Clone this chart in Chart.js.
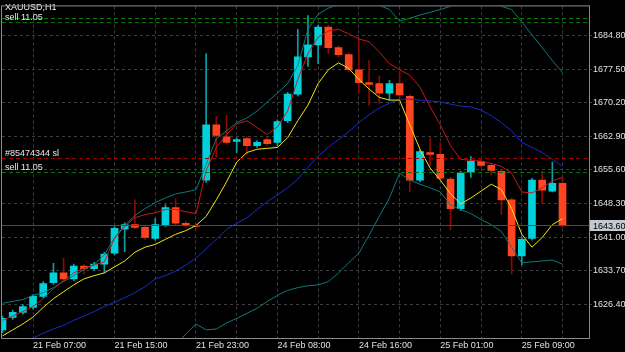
<!DOCTYPE html>
<html>
<head>
<meta charset="utf-8">
<title>XAUUSD,H1</title>
<script src="https://cdn.jsdelivr.net/npm/chart.js@4.4.1/dist/chart.umd.min.js"></script>
<style>
  html, body { margin: 0; padding: 0; background: #000; }
  canvas { display: block; }
</style>
</head>
<body>
<canvas id="chart" width="625" height="352"></canvas>
<script>
const symbolTitle = "XAUUSD,H1";

// x tick labels sit on these bar indices (one grid line every 4 bars)
const tickIndex = [3, 11, 19, 27, 35, 43, 51];
const tickLabels = ["21 Feb 07:00", "21 Feb 15:00", "21 Feb 23:00", "24 Feb 08:00",
  "24 Feb 16:00", "25 Feb 01:00", "25 Feb 09:00"];
const priceTicks = [1626.4, 1633.7, 1641.0, 1648.3, 1655.6, 1662.9, 1670.2, 1677.5, 1684.8];

const opens = [1620.8, 1623.5, 1624.6, 1625.7, 1628.1, 1631.1, 1633.2, 1631.9, 1634.7, 1634.1,
  1635.1, 1637.5, 1642.7, 1643.7, 1643.1, 1640.7, 1643.7, 1647.4, 1644.0, 1643.5,
  1653.4, 1665.4, 1662.8, 1661.8, 1662.4, 1660.9, 1662.2, 1661.6, 1666.3, 1672.1,
  1680.2, 1682.8, 1686.7, 1682.2, 1680.7, 1677.4, 1674.6, 1674.4, 1672.3, 1674.4,
  1671.6, 1653.4, 1659.4, 1659.0, 1653.6, 1647.2, 1655.1, 1657.5, 1656.6, 1655.3,
  1649.1, 1636.9, 1640.7, 1653.4, 1651.0, 1652.7];
const highs = [1623.8, 1625.1, 1626.3, 1628.5, 1631.3, 1635.3, 1636.4, 1635.1, 1635.0, 1635.5,
  1637.7, 1643.3, 1644.1, 1649.1, 1643.4, 1645.0, 1648.0, 1649.3, 1644.4, 1643.9,
  1680.9, 1667.3, 1667.5, 1662.6, 1662.8, 1662.0, 1662.6, 1666.5, 1672.5, 1686.2,
  1689.2, 1687.1, 1687.1, 1682.6, 1681.1, 1684.1, 1679.4, 1676.1, 1675.1, 1677.0,
  1672.0, 1660.0, 1662.6, 1661.5, 1654.0, 1655.3, 1658.5, 1657.9, 1657.0, 1655.7,
  1649.5, 1641.0, 1653.8, 1655.3, 1657.3, 1654.0];
const lows = [1620.2, 1623.1, 1624.2, 1625.3, 1627.8, 1630.7, 1631.5, 1631.5, 1633.0, 1633.8,
  1633.2, 1637.1, 1637.8, 1642.8, 1640.5, 1640.3, 1643.3, 1643.6, 1643.3, 1642.9,
  1652.9, 1658.3, 1661.2, 1659.4, 1658.9, 1660.5, 1660.9, 1660.9, 1665.9, 1671.7,
  1678.1, 1678.7, 1680.9, 1680.2, 1677.0, 1672.3, 1669.7, 1670.1, 1670.8, 1671.4,
  1650.8, 1653.0, 1656.6, 1653.4, 1642.6, 1646.8, 1654.0, 1656.2, 1654.5, 1645.9,
  1633.0, 1635.0, 1640.3, 1648.2, 1650.8, 1643.2];
const closes = [1623.3, 1624.6, 1625.9, 1628.1, 1630.9, 1633.2, 1631.9, 1634.7, 1634.1, 1635.1,
  1637.3, 1642.9, 1643.7, 1643.1, 1640.9, 1643.7, 1647.4, 1644.0, 1643.7, 1643.3,
  1665.4, 1663.1, 1661.6, 1662.2, 1660.9, 1661.6, 1661.3, 1666.1, 1672.1, 1680.2,
  1682.8, 1686.7, 1682.2, 1680.7, 1677.4, 1674.6, 1674.2, 1672.3, 1674.4, 1671.9,
  1653.4, 1659.6, 1659.0, 1653.8, 1647.2, 1654.9, 1657.5, 1656.6, 1655.5, 1649.1,
  1636.9, 1640.5, 1653.4, 1651.2, 1652.7, 1643.6];

const redLine = [1622.9, 1623.8, 1624.8, 1625.9, 1627.6, 1629.8, 1631.5, 1633.2, 1634.3, 1634.9,
  1635.6, 1640.7, 1643.3, 1645.2, 1645.9, 1646.3, 1647.0, 1647.0, 1646.5, 1646.1,
  1655.5, 1660.5, 1663.3, 1665.6, 1666.3, 1664.8, 1663.3, 1665.0, 1668.4, 1675.3,
  1680.9, 1684.5, 1685.8, 1686.2, 1685.2, 1684.1, 1683.5, 1681.3, 1678.7, 1677.4,
  1676.2, 1673.6, 1669.3, 1665.4, 1660.9, 1657.9, 1657.7, 1657.5, 1657.0, 1656.4,
  1654.9, 1650.8, 1650.6, 1651.7, 1653.2, 1654.0];
const yellowLine = [1619.5, 1620.8, 1622.1, 1623.6, 1625.7, 1627.6, 1629.1, 1630.6, 1631.9, 1632.6,
  1633.2, 1634.5, 1635.8, 1637.7, 1638.8, 1639.4, 1640.5, 1641.6, 1642.4, 1643.5,
  1645.5, 1649.1, 1653.0, 1657.3, 1659.4, 1660.1, 1660.3, 1660.5, 1662.6, 1666.3,
  1669.7, 1674.4, 1677.4, 1678.9, 1677.7, 1675.3, 1673.2, 1671.4, 1670.8, 1670.8,
  1665.4, 1660.1, 1656.0, 1653.4, 1650.4, 1648.2, 1649.5, 1651.0, 1652.5, 1651.3,
  1647.2, 1641.6, 1638.8, 1640.9, 1643.7, 1645.0];
const blueLine = [1616.5, 1617.3, 1618.2, 1619.0, 1620.1, 1621.0, 1621.8, 1622.9, 1623.8, 1624.8,
  1625.9, 1626.8, 1627.8, 1628.9, 1630.2, 1631.9, 1632.6, 1633.6, 1634.9, 1636.4,
  1638.4, 1640.5, 1642.7, 1644.0, 1645.2, 1647.0, 1648.7, 1650.2, 1651.7, 1653.6,
  1656.2, 1658.6, 1660.5, 1662.2, 1663.9, 1665.9, 1667.6, 1669.1, 1670.1, 1671.0,
  1671.0, 1670.8, 1670.6, 1670.4, 1669.9, 1669.5, 1669.3, 1668.6, 1667.4, 1665.9,
  1664.1, 1661.6, 1660.5, 1659.4, 1657.9, 1656.4];
const bandUpper = [1626.6, 1627.0, 1627.4, 1628.3, 1628.9, 1630.0, 1631.3, 1632.6, 1633.9, 1635.1,
  1637.1, 1640.9, 1643.5, 1645.7, 1647.2, 1648.5, 1649.5, 1650.4, 1650.8, 1651.3,
  1656.8, 1662.4, 1664.1, 1665.9, 1666.9, 1668.4, 1670.4, 1672.3, 1674.4, 1678.3,
  1686.2, 1689.5, 1690.8, 1691.6, 1692.5, 1692.5, 1692.0, 1691.4, 1690.5, 1688.0,
  1688.6, 1689.3, 1689.9, 1690.5, 1691.2, 1692.0, 1692.5, 1692.5, 1692.0, 1691.2,
  1690.5, 1687.8, 1685.0, 1682.2, 1679.4, 1676.8];
const bandLower = [null, null, null, null, null, null, null, null, null, null,
  null, null, null, null, null, null, null, 1617.5, 1619.9, 1622.1,
  1620.8, 1621.0, 1622.3, 1623.3, 1624.4, 1625.5, 1627.0, 1628.3, 1629.4, 1630.0,
  1630.4, 1630.6, 1631.3, 1633.2, 1635.4, 1637.5, 1641.4, 1645.5, 1649.5, 1654.9,
  1653.4, 1652.5, 1651.7, 1650.8, 1648.0, 1647.0, 1646.1, 1644.8, 1643.7, 1642.2,
  1638.8, 1635.4, 1635.6, 1635.8, 1636.0, 1635.1];

// order lines shown on the chart
const levelPrices = [1688.75, 1687.68, 1658.12, 1655.11];
const levelColors = ["#0b7d0b", "#0a640a", "#a00000", "#0a6e0a"];
const levelTexts = ["", "sell 11.05", "#85474344 sl", "sell 11.05"];
const bidPrice = 1643.60;

const bullBody = "#00d2dc";
const bearBody = "#ff4422";
const bullWick = "#0aa0a6";
const bearWick = "#8a0a00";

const bars = opens.map((o, i) => ({ i, o, h: highs[i], l: lows[i], c: closes[i] }));
const bull = bars.filter((b) => b.c >= b.o);
const bear = bars.filter((b) => b.c < b.o);

function lineSet(values, color) {
  return {
    type: "line",
    data: values.map((v, i) => ({ x: i, y: v })),
    borderColor: color,
    borderWidth: 1,
    pointRadius: 0,
    tension: 0,
    order: 0,
  };
}

function barSet(list, lo, hi, color, width, order) {
  return {
    type: "bar",
    data: list.map((b) => ({ x: b.i, y: [b[lo], b[hi]] })),
    backgroundColor: color,
    barThickness: width,
    grouped: false,
    order: order,
  };
}

const frameAndLevels = {
  id: "frameAndLevels",
  beforeDraw(chart) {
    const c = chart.ctx;
    c.save();
    c.fillStyle = "#000";
    c.fillRect(0, 0, chart.width, chart.height);
    c.restore();
  },
  afterDatasetsDraw(chart) {
    const c = chart.ctx;
    const a = chart.chartArea;
    const y = chart.scales.y;
    c.save();
    c.font = "9px 'Liberation Sans', Arial, sans-serif";
    c.textBaseline = "alphabetic";
    c.lineWidth = 1;

    const by = Math.round(y.getPixelForValue(bidPrice)) + 0.5;
    c.strokeStyle = "#4a4a52";
    c.beginPath();
    c.moveTo(a.left, by);
    c.lineTo(a.right, by);
    c.stroke();

    levelPrices.forEach((p, k) => {
      const ly = Math.round(y.getPixelForValue(p)) + 0.5;
      c.strokeStyle = levelColors[k];
      c.setLineDash([4, 3]);
      c.beginPath();
      c.moveTo(a.left, ly);
      c.lineTo(a.right, ly);
      c.stroke();
      c.setLineDash([]);
      if (levelTexts[k]) {
        c.fillStyle = "#e8e8e8";
        c.fillText(levelTexts[k], a.left + 3, ly - 2.5);
      }
    });

    c.fillStyle = "#f0f0f0";
    c.fillText(symbolTitle, a.left + 3, 10);

    c.strokeStyle = "#8c8c8c";
    c.strokeRect(a.left - 0.5, a.top - 0.5, a.right - a.left + 1, a.bottom - a.top + 1);

    // current price box on the price axis
    c.fillStyle = "#c4c8d0";
    c.fillRect(a.right + 1, by - 5.5, chart.width - a.right - 1, 11);
    c.fillStyle = "#000";
    c.fillText(bidPrice.toFixed(2), a.right + 4, by + 3.5);
    c.restore();
  },
};

new Chart(document.getElementById("chart"), {
  data: {
    datasets: [
      lineSet(redLine, "#c81818"),
      lineSet(yellowLine, "#f0e614"),
      lineSet(blueLine, "#1a2ccc"),
      lineSet(bandUpper, "#0d7a7a"),
      lineSet(bandLower, "#0d7a7a"),
      barSet(bull, "o", "c", bullBody, 7, 1),
      barSet(bear, "c", "o", bearBody, 7, 1),
      barSet(bull, "l", "h", bullWick, 1, 2),
      barSet(bear, "l", "h", bearWick, 1, 2),
    ],
  },
  options: {
    responsive: false,
    animation: false,
    devicePixelRatio: 1,
    layout: { padding: { left: 2, top: 2, right: 0, bottom: 0 } },
    plugins: { legend: { display: false }, tooltip: { enabled: false } },
    scales: {
      x: {
        type: "linear",
        offset: false,
        min: -0.05,
        max: 57.6,
        afterBuildTicks: (scale) => {
          const t = [];
          for (let v = 3; v <= 55; v += 4) t.push({ value: v });
          scale.ticks = t;
        },
        afterFit: (scale) => { scale.height = 14; },
        ticks: {
          autoSkip: false,
          maxRotation: 0,
          align: "start",
          padding: 2,
          color: "#e0e0e0",
          font: { family: "'Liberation Sans', Arial, sans-serif", size: 9 },
          callback: (v) => {
            const k = tickIndex.indexOf(v);
            return k >= 0 ? tickLabels[k] : "";
          },
        },
        grid: {
          offset: false,
          color: (ctx) => (ctx.tick && ctx.tick.value === 7 ? "rgba(0,0,0,0)" : "#3c3c3c"),
          drawTicks: false,
        },
        border: { display: false, dash: [3, 3] },
      },
      y: {
        position: "right",
        min: 1619.04,
        max: 1691.18,
        afterBuildTicks: (scale) => {
          scale.ticks = priceTicks.map((v) => ({ value: v }));
        },
        afterFit: (scale) => { scale.width = 36; },
        ticks: {
          padding: 1,
          color: "#e0e0e0",
          font: { family: "'Liberation Sans', Arial, sans-serif", size: 9 },
          callback: (v) => v.toFixed(2),
        },
        grid: { color: "#3c3c3c", tickLength: 3 },
        border: { display: false, dash: [3, 3] },
      },
    },
  },
  plugins: [frameAndLevels],
});
</script>
</body>
</html>
